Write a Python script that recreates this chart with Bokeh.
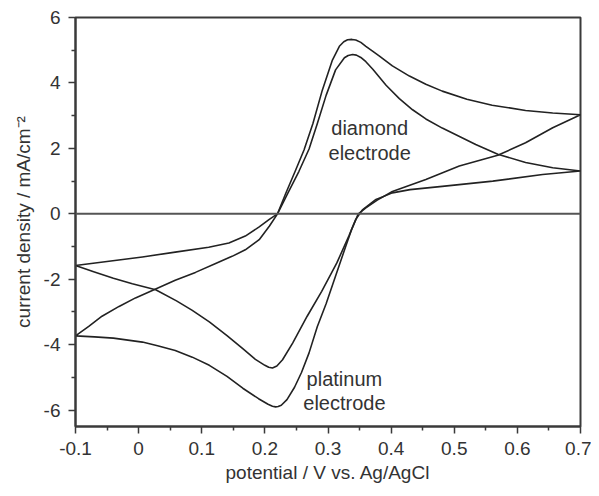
from bokeh.plotting import figure
from bokeh.models import FixedTicker, Span, Range1d, ColumnDataSource
from bokeh.core.properties import value
from bokeh.embed import file_html
from bokeh.resources import INLINE

# ---- data ----
# outer loop (larger background current)
loop1_x = [-0.1, -0.079, -0.058, -0.031, -0.005, 0.027, 0.058, 0.090, 0.122, 0.148, 0.169,
           0.191, 0.207, 0.220, 0.233, 0.248, 0.262, 0.276, 0.291, 0.307, 0.318, 0.325,
           0.331, 0.338, 0.344, 0.352, 0.360, 0.370, 0.381, 0.402, 0.429, 0.455, 0.481,
           0.52, 0.56, 0.613, 0.656, 0.70,
           0.656, 0.613, 0.569, 0.508, 0.455, 0.402, 0.378, 0.360, 0.348, 0.337, 0.328,
           0.312, 0.297, 0.283, 0.270, 0.258, 0.247, 0.235, 0.226, 0.221, 0.217, 0.212,
           0.205, 0.19, 0.165, 0.14, 0.112, 0.085, 0.058, 0.03, 0.006, -0.04, -0.07, -0.1]
loop1_y = [-3.73, -3.44, -3.13, -2.83, -2.57, -2.30, -2.03, -1.79, -1.52, -1.30, -1.10,
           -0.79, -0.38, 0.0, 0.62, 1.30, 1.95, 2.75, 3.78, 4.70, 5.12, 5.26,
           5.32, 5.33, 5.31, 5.24, 5.12, 4.98, 4.83, 4.52, 4.21, 3.96, 3.75,
           3.50, 3.32, 3.16, 3.08, 3.03,
           2.63, 2.17, 1.79, 1.46, 1.05, 0.68, 0.42, 0.18, 0.0, -0.5, -1.0,
           -1.9, -2.75, -3.45, -4.25, -4.85, -5.3, -5.68, -5.85, -5.89, -5.9, -5.88,
           -5.82, -5.65, -5.33, -4.97, -4.63, -4.38, -4.18, -4.03, -3.92, -3.8, -3.76, -3.73]

# inner loop (smaller background current)
loop2_x = [-0.1, -0.047, 0.006, 0.058, 0.111, 0.143, 0.169, 0.191, 0.207, 0.220, 0.236,
           0.254, 0.270, 0.283, 0.297, 0.312, 0.326, 0.332, 0.339, 0.345, 0.352, 0.360,
           0.371, 0.392, 0.413, 0.434, 0.455, 0.481, 0.534, 0.569, 0.613, 0.656, 0.70,
           0.64, 0.561, 0.481, 0.43, 0.402, 0.376, 0.355, 0.344, 0.333, 0.314, 0.29,
           0.267, 0.244, 0.228, 0.219, 0.212, 0.206, 0.200, 0.185, 0.165, 0.14, 0.112,
           0.085, 0.06, 0.027, -0.01, -0.04, -0.07, -0.1]
loop2_y = [-1.58, -1.45, -1.32, -1.17, -1.02, -0.89, -0.68, -0.40, -0.17, 0.0, 0.62,
           1.30, 1.98, 2.75, 3.62, 4.40, 4.77, 4.84, 4.87, 4.85, 4.78, 4.65,
           4.42, 3.93, 3.52, 3.18, 2.90, 2.62, 2.12, 1.82, 1.57, 1.41, 1.31,
           1.2, 1.0, 0.84, 0.74, 0.64, 0.44, 0.13, -0.17, -0.68, -1.5, -2.37,
           -3.13, -3.95, -4.46, -4.65, -4.71, -4.69, -4.63, -4.45, -4.12, -3.72, -3.3,
           -2.95, -2.66, -2.32, -2.14, -1.97, -1.78, -1.58]

x_ticks = [-0.1, 0, 0.1, 0.2, 0.3, 0.4, 0.5, 0.6, 0.7]
x_tick_labels = ["-0.1", "0", "0.1", "0.2", "0.3", "0.4", "0.5", "0.6", "0.7"]
x_minor = [-0.05, 0.05, 0.15, 0.25, 0.35, 0.45, 0.55, 0.65]
y_ticks = [-6, -4, -2, 0, 2, 4, 6]
y_tick_labels = ["-6", "-4", "-2", "0", "2", "4", "6"]
y_minor = [-5, -3, -1, 1, 3, 5]

note_text = ["diamond", "electrode", "platinum", "electrode"]
note_x = [0.366, 0.366, 0.326, 0.326]
note_y = [2.63, 1.87, -5.05, -5.78]

x_label = "potential / V vs. Ag/AgCl"
y_label = "current density / mA/cm\u207b\u00b2"

FONT = "Liberation Sans"
INK = "#333333"

p = figure(width=591, height=488, output_backend="svg", toolbar_location=None,
           x_range=Range1d(-0.1, 0.7), y_range=Range1d(-6.5, 6),
           min_border_left=75, min_border_right=11, min_border_top=17, min_border_bottom=62)
p.background_fill_color = "white"
p.border_fill_color = "white"
p.xgrid.visible = False
p.ygrid.visible = False
p.outline_line_color = "#3a3a3a"
p.outline_line_width = 2

p.xaxis.ticker = FixedTicker(ticks=x_ticks, minor_ticks=x_minor)
p.yaxis.ticker = FixedTicker(ticks=y_ticks, minor_ticks=y_minor)
p.xaxis.major_label_overrides = {t: l for t, l in zip(x_ticks, x_tick_labels)}
p.yaxis.major_label_overrides = {t: l for t, l in zip(y_ticks, y_tick_labels)}

for ax in (p.xaxis, p.yaxis):
    ax.axis_line_color = "#3a3a3a"
    ax.axis_line_width = 2
    ax.major_tick_line_color = "#3a3a3a"
    ax.minor_tick_line_color = "#3a3a3a"
    ax.major_tick_line_width = 1.5
    ax.minor_tick_line_width = 1.5
    ax.major_tick_in = 0
    ax.major_tick_out = 7
    ax.minor_tick_in = 0
    ax.minor_tick_out = 4
    ax.major_label_text_font = FONT
    ax.major_label_text_font_size = "19px"
    ax.major_label_text_color = INK
    ax.axis_label_text_font = FONT
    ax.axis_label_text_font_size = "19px"
    ax.axis_label_text_font_style = "normal"
    ax.axis_label_text_color = INK

p.xaxis.axis_label = x_label
p.yaxis.axis_label = y_label
p.xaxis.major_label_standoff = 8
p.xaxis.axis_label_standoff = 4
p.yaxis.major_label_standoff = 8
p.yaxis.axis_label_standoff = 7

p.add_layout(Span(location=0, dimension="width", line_color="#555555", line_width=2))

p.line(loop1_x, loop1_y, line_color="#222222", line_width=1.6, line_join="round")
p.line(loop2_x, loop2_y, line_color="#222222", line_width=1.6, line_join="round")

src = ColumnDataSource(dict(x=note_x, y=note_y, t=note_text))
p.text(x="x", y="y", text="t", source=src, text_font=value(FONT),
       text_font_size=value("20px"), text_color=INK,
       text_align="center", text_baseline="middle")

open("out.html", "w").write(file_html(p, INLINE))
